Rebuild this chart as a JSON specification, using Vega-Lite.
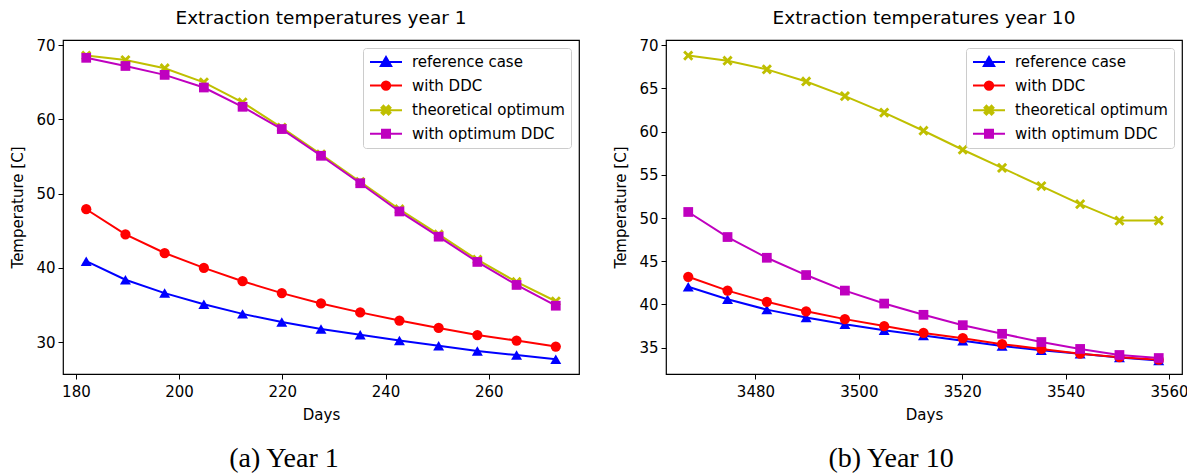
{
  "$schema": "https://vega.github.io/schema/vega-lite/v6.json",
  "padding": {"left": 10, "top": 8, "right": 0, "bottom": 0},
  "background": "white",
  "datasets": {
    "temps": [
      {"year": 1, "day": 182, "series": "reference case", "temp": 40.9},
      {"year": 1, "day": 189.6, "series": "reference case", "temp": 38.4},
      {"year": 1, "day": 197.2, "series": "reference case", "temp": 36.6},
      {"year": 1, "day": 204.8, "series": "reference case", "temp": 35.1},
      {"year": 1, "day": 212.3, "series": "reference case", "temp": 33.8},
      {"year": 1, "day": 219.9, "series": "reference case", "temp": 32.7},
      {"year": 1, "day": 227.5, "series": "reference case", "temp": 31.75},
      {"year": 1, "day": 235.1, "series": "reference case", "temp": 31.0},
      {"year": 1, "day": 242.7, "series": "reference case", "temp": 30.2},
      {"year": 1, "day": 250.3, "series": "reference case", "temp": 29.5},
      {"year": 1, "day": 257.8, "series": "reference case", "temp": 28.8},
      {"year": 1, "day": 265.4, "series": "reference case", "temp": 28.25},
      {"year": 1, "day": 273, "series": "reference case", "temp": 27.7},
      {"year": 1, "day": 182, "series": "with DDC", "temp": 47.9},
      {"year": 1, "day": 189.6, "series": "with DDC", "temp": 44.5},
      {"year": 1, "day": 197.2, "series": "with DDC", "temp": 42.0},
      {"year": 1, "day": 204.8, "series": "with DDC", "temp": 40.0},
      {"year": 1, "day": 212.3, "series": "with DDC", "temp": 38.2},
      {"year": 1, "day": 219.9, "series": "with DDC", "temp": 36.6},
      {"year": 1, "day": 227.5, "series": "with DDC", "temp": 35.2},
      {"year": 1, "day": 235.1, "series": "with DDC", "temp": 34.0},
      {"year": 1, "day": 242.7, "series": "with DDC", "temp": 32.9},
      {"year": 1, "day": 250.3, "series": "with DDC", "temp": 31.9},
      {"year": 1, "day": 257.8, "series": "with DDC", "temp": 30.95},
      {"year": 1, "day": 265.4, "series": "with DDC", "temp": 30.2},
      {"year": 1, "day": 273, "series": "with DDC", "temp": 29.4},
      {"year": 1, "day": 182, "series": "theoretical optimum", "temp": 68.6},
      {"year": 1, "day": 189.6, "series": "theoretical optimum", "temp": 68.0},
      {"year": 1, "day": 197.2, "series": "theoretical optimum", "temp": 66.9},
      {"year": 1, "day": 204.8, "series": "theoretical optimum", "temp": 65.0},
      {"year": 1, "day": 212.3, "series": "theoretical optimum", "temp": 62.3},
      {"year": 1, "day": 219.9, "series": "theoretical optimum", "temp": 58.9},
      {"year": 1, "day": 227.5, "series": "theoretical optimum", "temp": 55.3},
      {"year": 1, "day": 235.1, "series": "theoretical optimum", "temp": 51.6},
      {"year": 1, "day": 242.7, "series": "theoretical optimum", "temp": 47.9},
      {"year": 1, "day": 250.3, "series": "theoretical optimum", "temp": 44.5},
      {"year": 1, "day": 257.8, "series": "theoretical optimum", "temp": 41.1},
      {"year": 1, "day": 265.4, "series": "theoretical optimum", "temp": 38.1},
      {"year": 1, "day": 273, "series": "theoretical optimum", "temp": 35.5},
      {"year": 1, "day": 182, "series": "with optimum DDC", "temp": 68.3},
      {"year": 1, "day": 189.6, "series": "with optimum DDC", "temp": 67.2},
      {"year": 1, "day": 197.2, "series": "with optimum DDC", "temp": 66.0},
      {"year": 1, "day": 204.8, "series": "with optimum DDC", "temp": 64.3},
      {"year": 1, "day": 212.3, "series": "with optimum DDC", "temp": 61.7},
      {"year": 1, "day": 219.9, "series": "with optimum DDC", "temp": 58.7},
      {"year": 1, "day": 227.5, "series": "with optimum DDC", "temp": 55.1},
      {"year": 1, "day": 235.1, "series": "with optimum DDC", "temp": 51.4},
      {"year": 1, "day": 242.7, "series": "with optimum DDC", "temp": 47.6},
      {"year": 1, "day": 250.3, "series": "with optimum DDC", "temp": 44.2},
      {"year": 1, "day": 257.8, "series": "with optimum DDC", "temp": 40.8},
      {"year": 1, "day": 265.4, "series": "with optimum DDC", "temp": 37.7},
      {"year": 1, "day": 273, "series": "with optimum DDC", "temp": 34.9},
      {"year": 10, "day": 3467, "series": "reference case", "temp": 42.05},
      {"year": 10, "day": 3474.6, "series": "reference case", "temp": 40.6},
      {"year": 10, "day": 3482.2, "series": "reference case", "temp": 39.4},
      {"year": 10, "day": 3489.8, "series": "reference case", "temp": 38.5},
      {"year": 10, "day": 3497.3, "series": "reference case", "temp": 37.7},
      {"year": 10, "day": 3504.9, "series": "reference case", "temp": 37.0},
      {"year": 10, "day": 3512.5, "series": "reference case", "temp": 36.4},
      {"year": 10, "day": 3520.1, "series": "reference case", "temp": 35.8},
      {"year": 10, "day": 3527.7, "series": "reference case", "temp": 35.2},
      {"year": 10, "day": 3535.3, "series": "reference case", "temp": 34.7},
      {"year": 10, "day": 3542.8, "series": "reference case", "temp": 34.3},
      {"year": 10, "day": 3550.4, "series": "reference case", "temp": 33.85},
      {"year": 10, "day": 3558, "series": "reference case", "temp": 33.5},
      {"year": 10, "day": 3467, "series": "with DDC", "temp": 43.2},
      {"year": 10, "day": 3474.6, "series": "with DDC", "temp": 41.6},
      {"year": 10, "day": 3482.2, "series": "with DDC", "temp": 40.3},
      {"year": 10, "day": 3489.8, "series": "with DDC", "temp": 39.2},
      {"year": 10, "day": 3497.3, "series": "with DDC", "temp": 38.3},
      {"year": 10, "day": 3504.9, "series": "with DDC", "temp": 37.5},
      {"year": 10, "day": 3512.5, "series": "with DDC", "temp": 36.7},
      {"year": 10, "day": 3520.1, "series": "with DDC", "temp": 36.1},
      {"year": 10, "day": 3527.7, "series": "with DDC", "temp": 35.4},
      {"year": 10, "day": 3535.3, "series": "with DDC", "temp": 34.85},
      {"year": 10, "day": 3542.8, "series": "with DDC", "temp": 34.3},
      {"year": 10, "day": 3550.4, "series": "with DDC", "temp": 33.9},
      {"year": 10, "day": 3558, "series": "with DDC", "temp": 33.6},
      {"year": 10, "day": 3467, "series": "theoretical optimum", "temp": 68.8},
      {"year": 10, "day": 3474.6, "series": "theoretical optimum", "temp": 68.2},
      {"year": 10, "day": 3482.2, "series": "theoretical optimum", "temp": 67.2},
      {"year": 10, "day": 3489.8, "series": "theoretical optimum", "temp": 65.8},
      {"year": 10, "day": 3497.3, "series": "theoretical optimum", "temp": 64.1},
      {"year": 10, "day": 3504.9, "series": "theoretical optimum", "temp": 62.2},
      {"year": 10, "day": 3512.5, "series": "theoretical optimum", "temp": 60.1},
      {"year": 10, "day": 3520.1, "series": "theoretical optimum", "temp": 57.9},
      {"year": 10, "day": 3527.7, "series": "theoretical optimum", "temp": 55.8},
      {"year": 10, "day": 3535.3, "series": "theoretical optimum", "temp": 53.7},
      {"year": 10, "day": 3542.8, "series": "theoretical optimum", "temp": 51.6},
      {"year": 10, "day": 3550.4, "series": "theoretical optimum", "temp": 49.7},
      {"year": 10, "day": 3558, "series": "theoretical optimum", "temp": 49.7},
      {"year": 10, "day": 3467, "series": "with optimum DDC", "temp": 50.7},
      {"year": 10, "day": 3474.6, "series": "with optimum DDC", "temp": 47.8},
      {"year": 10, "day": 3482.2, "series": "with optimum DDC", "temp": 45.4},
      {"year": 10, "day": 3489.8, "series": "with optimum DDC", "temp": 43.4},
      {"year": 10, "day": 3497.3, "series": "with optimum DDC", "temp": 41.6},
      {"year": 10, "day": 3504.9, "series": "with optimum DDC", "temp": 40.1},
      {"year": 10, "day": 3512.5, "series": "with optimum DDC", "temp": 38.8},
      {"year": 10, "day": 3520.1, "series": "with optimum DDC", "temp": 37.6},
      {"year": 10, "day": 3527.7, "series": "with optimum DDC", "temp": 36.6},
      {"year": 10, "day": 3535.3, "series": "with optimum DDC", "temp": 35.65},
      {"year": 10, "day": 3542.8, "series": "with optimum DDC", "temp": 34.85},
      {"year": 10, "day": 3550.4, "series": "with optimum DDC", "temp": 34.15},
      {"year": 10, "day": 3558, "series": "with optimum DDC", "temp": 33.8}
    ]
  },
  "data": {"name": "temps"},
  "config": {
    "font": "DejaVu Sans",
    "view": {"stroke": "#000000", "strokeWidth": 1.2},
    "axis": {
      "domain": false, "grid": false, "ticks": true, "tickSize": 5, "tickColor": "#000000", "tickWidth": 1,
      "labelColor": "#000000", "labelFontSize": 15, "labelFont": "DejaVu Sans", "labelPadding": 3,
      "titleFont": "DejaVu Sans", "titleFontSize": 15, "titleFontWeight": "normal", "titleColor": "#000000"
    },
    "axisX": {"labelPadding": 5},
    "title": {"font": "DejaVu Sans", "fontSize": 18.5, "fontWeight": "normal", "color": "#000000", "offset": 11},
    "legend": {
      "orient": "top-right", "offset": 8, "strokeColor": "#cccccc", "fillColor": "rgba(255,255,255,0.85)",
      "cornerRadius": 3, "padding": 6, "labelFontSize": 15, "labelFont": "DejaVu Sans", "labelColor": "#000000",
      "symbolSize": 196, "symbolStrokeWidth": 2, "symbolOffset": 9, "rowPadding": 6.6, "labelOffset": 18, "labelLimit": 300
    }
  },
  "spacing": 33,
  "resolve": {"scale": {"color": "independent"}, "legend": {"color": "independent"}},
  "hconcat": [
    {
      "title": {"text": "(a) Year 1", "orient": "bottom", "font": "Liberation Serif", "fontSize": 28, "fontWeight": "normal", "offset": 22, "anchor": "middle", "frame": "bounds", "dx": -11},
      "resolve": {"scale": {"color": "independent"}, "legend": {"color": "independent"}},
      "vconcat": [
        {
          "title": {"text": "Extraction temperatures year 1"},
          "width": 516,
          "height": 334,
          "transform": [{"filter": "datum.year === 1"}],
          "encoding": {
            "x": {"field": "day", "type": "quantitative", "title": "Days",
                  "scale": {"domain": [177.5, 277.5], "nice": false, "zero": false},
                  "axis": {"values": [180, 200, 220, 240, 260], "format": "d", "titlePadding": 8}},
            "y": {"field": "temp", "type": "quantitative", "title": "Temperature [C]",
                  "scale": {"domain": [25.7, 70.7], "nice": false, "zero": false},
                  "axis": {"values": [30, 40, 50, 60, 70], "format": "d", "titlePadding": 10}},
            "color": {"field": "series", "type": "nominal",
                      "scale": {"domain": ["reference case", "with DDC", "theoretical optimum", "with optimum DDC"],
                                "range": ["#0000ff", "#ff0000", "#bfbf00", "#bf00bf"]},
                      "legend": {"title": null,
                        "encode": {"symbols": {"update": {
                          "shape": {"signal": "{'reference case':'M-2.286,0H2.286M0,-0.714L0.743,0.571L-0.743,0.571Z','with DDC':'M-2.286,0H2.286M0.6,0A0.6,0.6,0,1,1,-0.6,0A0.6,0.6,0,1,1,0.6,0Z','theoretical optimum':'M-2.286,0H2.286M-0.366,-0.64L0,-0.274L0.366,-0.64L0.64,-0.366L0.274,0L0.64,0.366L0.366,0.64L0,0.274L-0.366,0.64L-0.64,0.366L-0.274,0L-0.64,-0.366Z','with optimum DDC':'M-2.286,0H2.286M-0.571,-0.571H0.571V0.571H-0.571Z'}[datum.value]"},
                          "fill": {"signal": "{'reference case':'#0000ff','with DDC':'#ff0000','theoretical optimum':'#bfbf00','with optimum DDC':'#bf00bf'}[datum.value]"},
                          "stroke": {"signal": "{'reference case':'#0000ff','with DDC':'#ff0000','theoretical optimum':'#bfbf00','with optimum DDC':'#bf00bf'}[datum.value]"},
                          "strokeWidth": {"value": 2},
                          "opacity": {"value": 1},
                          "fillOpacity": {"value": 1},
                          "size": {"value": 196}
                        }}}}}
          },
          "layer": [
            {"mark": {"type": "line", "strokeWidth": 2}},
            {"transform": [{"filter": "datum.series === 'reference case'"}], "mark": {"type": "point", "shape": "triangle-up", "filled": true, "opacity": 1, "size": 120}},
            {"transform": [{"filter": "datum.series === 'with DDC'"}], "mark": {"type": "point", "shape": "circle", "filled": true, "opacity": 1, "size": 105}},
            {"transform": [{"filter": "datum.series === 'theoretical optimum'"}], "mark": {"type": "point", "shape": "M-0.6,-1L0,-0.4L0.6,-1L1,-0.6L0.4,0L1,0.6L0.6,1L0,0.4L-0.6,1L-1,0.6L-0.4,0L-1,-0.6Z", "filled": true, "opacity": 1, "size": 105}},
            {"transform": [{"filter": "datum.series === 'with optimum DDC'"}], "mark": {"type": "point", "shape": "square", "filled": true, "opacity": 1, "size": 95}}
          ]
        }
      ]
    },
    {
      "title": {"text": "(b) Year 10", "orient": "bottom", "font": "Liberation Serif", "fontSize": 28, "fontWeight": "normal", "offset": 22, "anchor": "middle", "frame": "bounds", "dx": -10},
      "resolve": {"scale": {"color": "independent"}, "legend": {"color": "independent"}},
      "vconcat": [
        {
          "title": {"text": "Extraction temperatures year 10"},
          "width": 516,
          "height": 334,
          "transform": [{"filter": "datum.year === 10"}],
          "encoding": {
            "x": {"field": "day", "type": "quantitative", "title": "Days",
                  "scale": {"domain": [3462.7, 3562.5], "nice": false, "zero": false},
                  "axis": {"values": [3480, 3500, 3520, 3540, 3560], "format": "d", "titlePadding": 8}},
            "y": {"field": "temp", "type": "quantitative", "title": "Temperature [C]",
                  "scale": {"domain": [31.95, 70.6], "nice": false, "zero": false},
                  "axis": {"values": [35, 40, 45, 50, 55, 60, 65, 70], "format": "d", "titlePadding": 10}},
            "color": {"field": "series", "type": "nominal",
                      "scale": {"domain": ["reference case", "with DDC", "theoretical optimum", "with optimum DDC"],
                                "range": ["#0000ff", "#ff0000", "#bfbf00", "#bf00bf"]},
                      "legend": {"title": null,
                        "encode": {"symbols": {"update": {
                          "shape": {"signal": "{'reference case':'M-2.286,0H2.286M0,-0.714L0.743,0.571L-0.743,0.571Z','with DDC':'M-2.286,0H2.286M0.6,0A0.6,0.6,0,1,1,-0.6,0A0.6,0.6,0,1,1,0.6,0Z','theoretical optimum':'M-2.286,0H2.286M-0.366,-0.64L0,-0.274L0.366,-0.64L0.64,-0.366L0.274,0L0.64,0.366L0.366,0.64L0,0.274L-0.366,0.64L-0.64,0.366L-0.274,0L-0.64,-0.366Z','with optimum DDC':'M-2.286,0H2.286M-0.571,-0.571H0.571V0.571H-0.571Z'}[datum.value]"},
                          "fill": {"signal": "{'reference case':'#0000ff','with DDC':'#ff0000','theoretical optimum':'#bfbf00','with optimum DDC':'#bf00bf'}[datum.value]"},
                          "stroke": {"signal": "{'reference case':'#0000ff','with DDC':'#ff0000','theoretical optimum':'#bfbf00','with optimum DDC':'#bf00bf'}[datum.value]"},
                          "strokeWidth": {"value": 2},
                          "opacity": {"value": 1},
                          "fillOpacity": {"value": 1},
                          "size": {"value": 196}
                        }}}}}
          },
          "layer": [
            {"mark": {"type": "line", "strokeWidth": 2}},
            {"transform": [{"filter": "datum.series === 'reference case'"}], "mark": {"type": "point", "shape": "triangle-up", "filled": true, "opacity": 1, "size": 120}},
            {"transform": [{"filter": "datum.series === 'with DDC'"}], "mark": {"type": "point", "shape": "circle", "filled": true, "opacity": 1, "size": 105}},
            {"transform": [{"filter": "datum.series === 'theoretical optimum'"}], "mark": {"type": "point", "shape": "M-0.6,-1L0,-0.4L0.6,-1L1,-0.6L0.4,0L1,0.6L0.6,1L0,0.4L-0.6,1L-1,0.6L-0.4,0L-1,-0.6Z", "filled": true, "opacity": 1, "size": 105}},
            {"transform": [{"filter": "datum.series === 'with optimum DDC'"}], "mark": {"type": "point", "shape": "square", "filled": true, "opacity": 1, "size": 95}}
          ]
        }
      ]
    }
  ]
}
